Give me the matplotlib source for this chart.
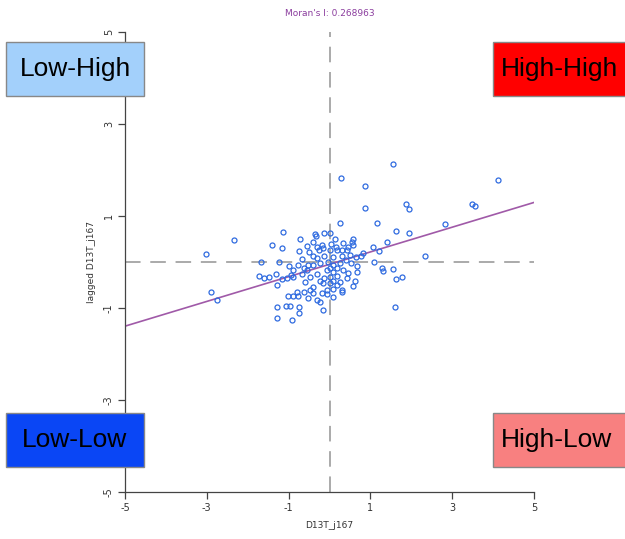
import matplotlib
matplotlib.use("Agg")
import matplotlib.pyplot as plt
from matplotlib.patches import Rectangle
import numpy as np

# valores (D13T_j167 vs rezago espacial)
x_vals = [1.56, 0.28, 0.87, 4.12, 0.88, 1.87, 1.94, 3.48, 3.56, 0.26,
          1.17, 2.82, 1.63, 1.94, 1.40, 1.06, 1.20, 2.33, 1.09, 1.28,
          1.30, 1.56, 1.78, 1.63, 1.59, -3.02, -2.33, -2.89, -2.74, -1.14,
          -1.41, -1.17, -0.73, -0.74, -1.67, -1.23, -1.00, -0.67, -1.73, -1.60,
          -1.48, -1.32, -1.29, -1.17, -0.95, -0.89, -1.28, -1.06, -0.96, -0.74,
          -0.75, -1.29, -0.92, -0.15, -1.01, -0.89, -0.80, -0.78, -0.53, -0.30,
          -0.48, -0.40, -0.18, -0.07, 0.09, 0.31, 0.58, 0.62, 0.68, 0.67,
          -0.35, -0.33, -0.13, 0.01, -0.40, -0.19, -0.17, -0.31, 0.13, 0.34,
          0.58, 0.55, 0.19, 0.42, 0.58, 0.50, 0.76, 0.83, -0.52, -0.62,
          -0.40, -0.30, -0.23, -0.04, 0.08, 0.26, 0.40, 0.52, -0.07, 0.09,
          0.19, 0.01, -0.13, -0.31, -0.48, -0.59, -0.68, 0.26, 0.42, 0.46,
          0.01, 0.18, -0.17, -0.89, -1.05, -0.56, -0.76, 0.09, 0.30, 0.65,
          -0.50, -0.26, 0.03, 0.16, 0.31, -0.13, -0.40, 0.00, 0.19, 0.34,
          -0.23, 0.09, -0.07, -0.40, -0.62, -0.23, 0.09, 0.31, 0.01, 0.46,
          -0.56]
y_vals = [2.12, 1.83, 1.66, 1.78, 1.18, 1.26, 1.15, 1.26, 1.22, 0.85,
          0.85, 0.83, 0.67, 0.62, 0.43, 0.32, 0.25, 0.12, -0.01, -0.12,
          -0.19, -0.16, -0.32, -0.37, -0.97, 0.17, 0.47, -0.65, -0.83, 0.65,
          0.37, 0.31, 0.51, 0.25, 0.01, -0.01, -0.09, 0.07, -0.30, -0.34,
          -0.32, -0.25, -0.50, -0.37, -0.28, -0.32, -0.97, -0.96, -0.96, -0.97,
          -1.10, -1.22, -1.25, -1.05, -0.74, -0.74, -0.65, -0.74, -0.79, -0.83,
          -0.61, -0.54, -0.67, -0.70, -0.59, -0.61, -0.52, -0.41, -0.21, -0.09,
          0.61, 0.57, 0.62, 0.62, 0.44, 0.38, 0.31, 0.33, 0.49, 0.42,
          0.49, 0.43, 0.26, 0.26, 0.37, 0.15, 0.13, 0.19, -0.07, -0.12,
          -0.07, 0.08, -0.03, 0.01, -0.07, -0.03, 0.04, -0.03, -0.17, -0.21,
          -0.30, -0.32, -0.35, -0.26, -0.32, -0.43, -0.26, -0.43, -0.35, -0.23,
          -0.46, -0.50, -0.46, -0.17, -0.35, -0.17, -0.07, 0.10, 0.13, 0.10,
          0.22, 0.26, 0.39, 0.33, 0.26, 0.13, 0.13, -0.14, -0.14, -0.17,
          -0.41, -0.41, -0.61, -0.68, -0.65, -0.86, -0.75, -0.65, 0.26, 0.33,
          0.35]

moran_i = 0.268963
intercepto = -0.05
ticks = [-5, -3, -1, 1, 3, 5]

# cuadrantes: (texto, color)
cuadrantes = [("Low-High", "#a3d0fb"), ("High-High", "#ff0000"),
              ("Low-Low", "#0a46f5"), ("High-Low", "#f88080")]

fig = plt.figure(figsize=(6.25, 5.39), dpi=100)
ax = fig.add_axes([0.2, 0.0872, 0.6544, 0.8534])

ax.axhline(0, color="#aaaaaa", lw=1.4, ls=(0, (8, 5)), zorder=1)
ax.axvline(0, color="#aaaaaa", lw=1.4, ls=(0, (8, 5)), zorder=1)

xl = np.array([-5, 5])
ax.plot(xl, intercepto + moran_i * xl, color="#a05aa8", lw=1.2, zorder=2)

ax.plot(x_vals, y_vals, 'o', mfc='none', mec='#2f6be0', ms=3.6, mew=0.9, zorder=3)

ax.set_xlim(-5, 5)
ax.set_ylim(-5, 5)
ax.set_xticks(ticks)
ax.set_yticks(ticks)
ax.set_xticklabels([str(t) for t in ticks], fontsize=7, color="#333333")
ax.set_yticklabels([str(t) for t in ticks], fontsize=7, color="#333333",
                   rotation=90, va='center')
ax.tick_params(direction='out', length=5, width=0.9, color="#444444", pad=3)
for s in ["top", "right"]:
    ax.spines[s].set_visible(False)
for s in ["left", "bottom"]:
    ax.spines[s].set_color("#444444")
    ax.spines[s].set_linewidth(0.9)

ax.set_xlabel("D13T_j167", fontsize=6.5, color="#333333", labelpad=6)
ax.set_ylabel("lagged D13T_j167", fontsize=6.5, color="#333333", labelpad=6)
fig.text(330 / 625, 1 - 14 / 539, "Moran's I: 0.268963", fontsize=6.5,
         color="#8b3d9e", ha='center', va='center')

# cajas de cuadrantes en pixeles (izq, arriba, ancho, alto)
cajas = [(6, 42, 138, 54), (493, 42, 140, 54), (6, 413, 138, 54), (493, 413, 140, 54)]
for (txt, col), (px, py, w, h) in zip(cuadrantes, cajas):
    r = Rectangle((px / 625, 1 - (py + h) / 539), w / 625, h / 539,
                  transform=fig.transFigure, facecolor=col, edgecolor="#888888",
                  lw=1, zorder=5)
    fig.add_artist(r)
    if px < 100:
        cx = (px + w / 2) / 625
        ha = 'center'
    else:
        cx = (px + 8) / 625
        ha = 'left'
    fig.text(cx, 1 - (py + h / 2) / 539, txt, fontsize=19, color="black",
             ha=ha, va='center', zorder=6, family="Liberation Sans")

plt.savefig("out.png", dpi=100)
